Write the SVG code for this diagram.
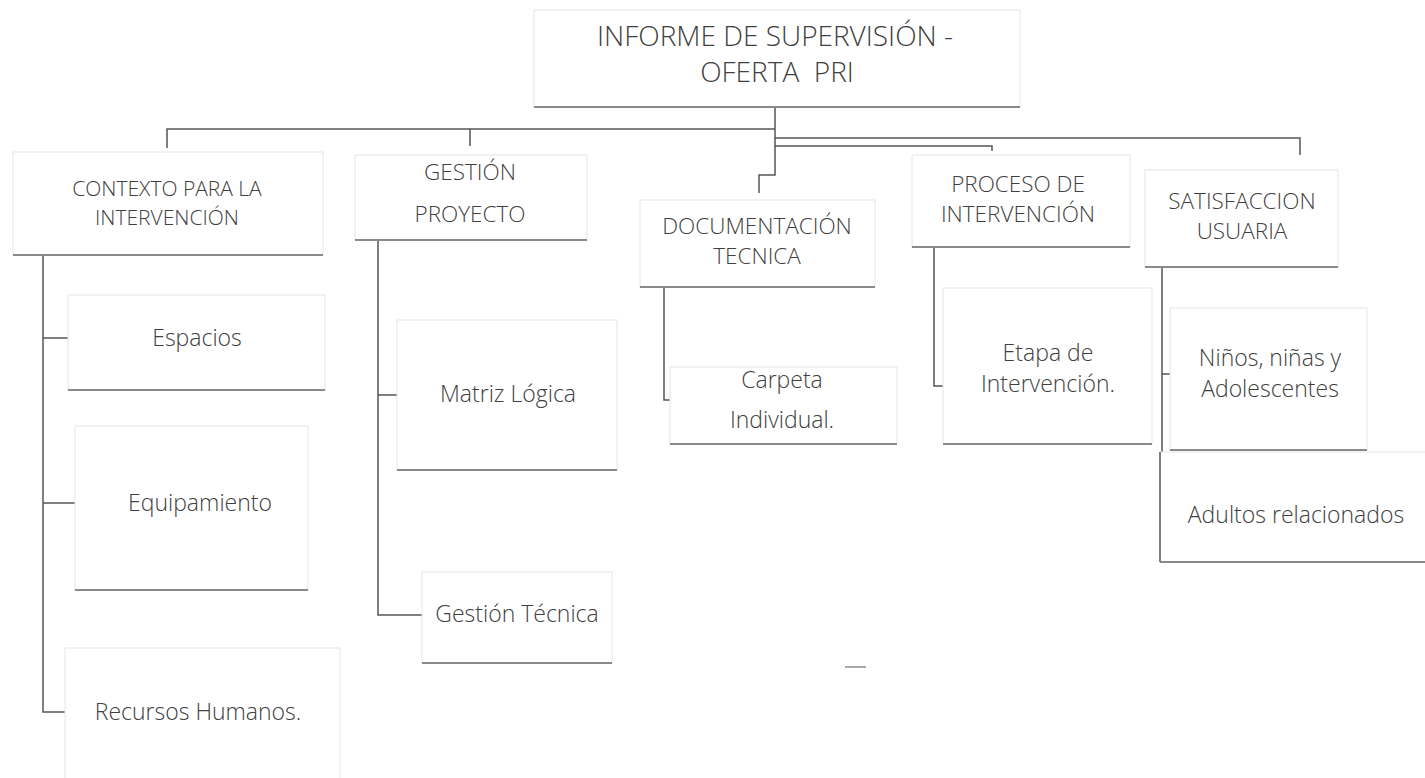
<svg xmlns="http://www.w3.org/2000/svg" width="1425" height="778" viewBox="0 0 1425 778">
<style>
.box{fill:#ffffff;stroke:#e6e6e6;stroke-width:1}
.sh{stroke:#8a8a8a;stroke-width:2;fill:none}
.con{stroke:#555555;stroke-width:1.5;fill:none}
text{font-family:"Open Sans","Liberation Sans",sans-serif;font-weight:300;fill:#404040;text-anchor:middle}
.t0{font-size:28px}
.t1{font-size:22.5px}
.t1s{font-size:21px}
.t2{font-size:23px}
</style>
<rect width="1425" height="778" fill="#ffffff"/>
<g id="connectors">
<path class="con" d="M775,107 V175 H759 V193"/>
<path class="con" d="M775,129 H167 V148"/>
<path class="con" d="M470,129 V146"/>
<path class="con" d="M775,138 H1300 V155"/>
<path class="con" d="M775,146 H992 V151"/>
<path class="con" d="M43,255 V712 H66"/>
<path class="con" d="M43,338 H68"/>
<path class="con" d="M43,503 H75"/>
<path class="con" d="M378,240 V615 H422"/>
<path class="con" d="M378,395 H397"/>
<path class="con" d="M664,287 V400 H670"/>
<path class="con" d="M934,247 V386 H943"/>
<path class="con" d="M1162,267 V452"/>
<path class="con" d="M1162,374 H1170"/>
</g>
<g id="n-informe">
<rect class="box" x="534" y="10" width="486" height="97"/>
<line class="sh" x1="534" y1="107" x2="1020" y2="107"/>
<text class="t0" x="775" y="46">INFORME DE SUPERVISIÓN -</text>
<text class="t0" x="777" y="82" style="white-space:pre">OFERTA  PRI</text>
</g>
<g id="n-contexto">
<rect class="box" x="13" y="152" width="310" height="103"/>
<line class="sh" x1="13" y1="255" x2="323" y2="255"/>
<text class="t1s" x="167" y="196">CONTEXTO PARA LA</text>
<text class="t1s" x="167" y="225">INTERVENCIÓN</text>
</g>
<g id="n-gestion">
<rect class="box" x="355" y="155" width="232" height="85"/>
<line class="sh" x1="355" y1="240" x2="587" y2="240"/>
<text class="t1" x="470" y="180">GESTIÓN</text>
<text class="t1" x="470" y="222">PROYECTO</text>
</g>
<g id="n-documentacion">
<rect class="box" x="640" y="200" width="235" height="87"/>
<line class="sh" x1="640" y1="287" x2="875" y2="287"/>
<text class="t1" x="757" y="234">DOCUMENTACIÓN</text>
<text class="t1" x="757" y="264">TECNICA</text>
</g>
<g id="n-proceso">
<rect class="box" x="912" y="155" width="218" height="92"/>
<line class="sh" x1="912" y1="247" x2="1130" y2="247"/>
<text class="t1" x="1018" y="192">PROCESO DE</text>
<text class="t1" x="1018" y="222">INTERVENCIÓN</text>
</g>
<g id="n-satisfaccion">
<rect class="box" x="1145" y="170" width="193" height="97"/>
<line class="sh" x1="1145" y1="267" x2="1338" y2="267"/>
<text class="t1" x="1242" y="209">SATISFACCION</text>
<text class="t1" x="1242" y="239">USUARIA</text>
</g>
<g id="n-espacios">
<rect class="box" x="68" y="295" width="257" height="95"/>
<line class="sh" x1="68" y1="390" x2="325" y2="390"/>
<text class="t2" x="197" y="346">Espacios</text>
</g>
<g id="n-equipamiento">
<rect class="box" x="75" y="426" width="233" height="164"/>
<line class="sh" x1="75" y1="590" x2="308" y2="590"/>
<text class="t2" x="200" y="511">Equipamiento</text>
</g>
<g id="n-recursos">
<rect class="box" x="65" y="648" width="275" height="140"/>
<text class="t2" x="198" y="720">Recursos Humanos.</text>
</g>
<g id="n-matriz">
<rect class="box" x="397" y="320" width="220" height="150"/>
<line class="sh" x1="397" y1="470" x2="617" y2="470"/>
<text class="t2" x="508" y="402">Matriz Lógica</text>
</g>
<g id="n-gestiontecnica">
<rect class="box" x="422" y="572" width="190" height="91"/>
<line class="sh" x1="422" y1="663" x2="612" y2="663"/>
<text class="t2" x="517" y="622">Gestión Técnica</text>
</g>
<g id="n-carpeta">
<rect class="box" x="670" y="367" width="227" height="77"/>
<line class="sh" x1="670" y1="444" x2="897" y2="444"/>
<text class="t2" x="782" y="388">Carpeta</text>
<text class="t2" x="782" y="428">Individual.</text>
</g>
<g id="n-etapa">
<rect class="box" x="943" y="288" width="209" height="156"/>
<line class="sh" x1="943" y1="444" x2="1152" y2="444"/>
<text class="t2" x="1048" y="361">Etapa de</text>
<text class="t2" x="1048" y="392">Intervención.</text>
</g>
<g id="n-ninos">
<rect class="box" x="1170" y="308" width="197" height="142"/>
<line class="sh" x1="1170" y1="450" x2="1367" y2="450"/>
<text class="t2" x="1270" y="366">Niños, niñas y</text>
<text class="t2" x="1270" y="397">Adolescentes</text>
</g>
<g id="n-adultos">
<rect class="box" x="1160" y="452" width="280" height="110"/>
<line class="con" x1="1160" y1="452" x2="1160" y2="562"/>
<line class="sh" x1="1160" y1="562" x2="1425" y2="562"/>
<text class="t2" x="1296" y="523">Adultos relacionados</text>
</g>
<line x1="845" y1="667" x2="866" y2="667" stroke="#aaaaaa" stroke-width="2"/>
</svg>
